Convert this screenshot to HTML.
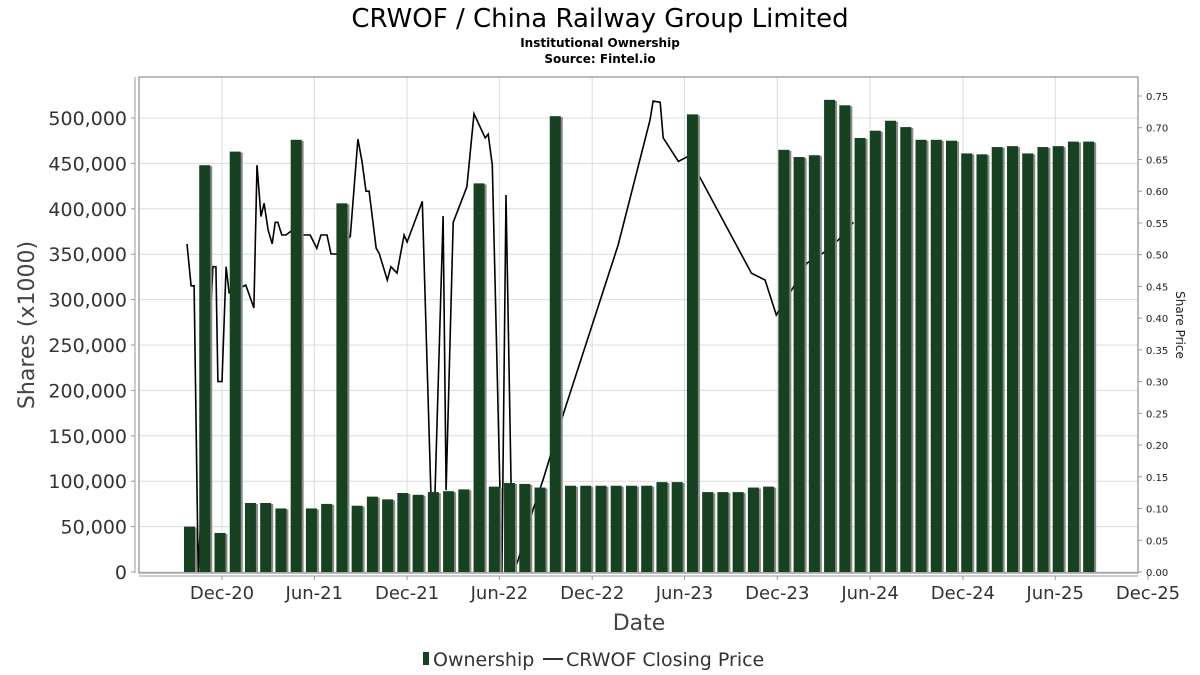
<!DOCTYPE html>
<html><head><meta charset="utf-8"><style>
body{margin:0;background:#fff;}
svg{display:block;font-family:"DejaVu Sans","Liberation Sans",sans-serif;}
</style></head><body>
<svg id="chart" width="1200" height="675" viewBox="0 0 1200 675">
<text x="600" y="27" text-anchor="middle" font-size="26" fill="#000">CRWOF / China Railway Group Limited</text>
<text x="600" y="47" text-anchor="middle" font-size="12" font-weight="bold" fill="#000">Institutional Ownership</text>
<text x="600" y="63" text-anchor="middle" font-size="12" font-weight="bold" fill="#000">Source: Fintel.io</text>
<g id="grid"></g>
<g id="line"></g>
<g id="bars"></g>
<rect x="139" y="77" width="999" height="496" fill="none" stroke="#777" stroke-width="1"/>
<line x1="135" y1="77" x2="135" y2="573" stroke="#999"/>
<line x1="139" y1="576" x2="1138" y2="576" stroke="#999"/>
<g id="axes"></g>
<text transform="translate(34,325) rotate(-90)" text-anchor="middle" font-size="22" fill="#444">Shares (x1000)</text>
<text transform="translate(1176,325) rotate(90)" text-anchor="middle" font-size="12" fill="#222">Share Price</text>
<text x="639" y="630" text-anchor="middle" font-size="22" fill="#444">Date</text>
<g>
<rect x="423" y="652" width="6" height="13" fill="#174222"/>
<text x="433" y="666" font-size="19" fill="#333">Ownership</text>
<line x1="543" y1="659" x2="563" y2="659" stroke="#333" stroke-width="2"/>
<text x="566" y="666" font-size="19" fill="#333">CRWOF Closing Price</text>
</g>
</svg>
<script>
const ownership = [50,448,43,463,76,76,70,476,70,75,406,73,83,80,87,85,88,89,91,428,94,98,97,93,502,95,95,95,95,95,95,99,99,504,88,88,88,93,94,465,457,459,520,514,478,486,497,490,476,476,475,461,460,468,469,461,468,469,474,474];
const priceDates = ["2020-09-23","2020-10-01","2020-10-07","2020-10-15","2020-11-13","2020-11-19","2020-11-23","2020-12-01","2020-12-09","2020-12-15","2021-01-17","2021-02-02","2021-02-08","2021-02-16","2021-02-22","2021-03-02","2021-03-10","2021-03-16","2021-03-21","2021-03-29","2021-04-06","2021-04-16","2021-04-24","2021-05-24","2021-06-06","2021-06-14","2021-06-26","2021-07-04","2021-07-16","2021-08-11","2021-08-26","2021-09-03","2021-09-11","2021-09-17","2021-10-01","2021-10-07","2021-10-23","2021-10-30","2021-11-11","2021-11-25","2021-12-01","2021-12-31","2022-01-17","2022-01-25","2022-02-10","2022-02-16","2022-03-02","2022-03-29","2022-04-12","2022-05-04","2022-05-10","2022-05-18","2022-06-06","2022-06-14","2022-06-24","2022-06-28","2022-07-08","2022-08-07","2022-08-26","2022-10-03","2022-11-13","2023-01-21","2023-03-25","2023-03-31","2023-04-14","2023-04-20","2023-05-20","2023-06-06","2023-07-02","2023-10-11","2023-11-07","2023-11-29","2024-01-02","2024-01-29","2024-03-01","2024-03-30","2024-04-29"];
const prices = [0.517,0.451,0.451,0,0.481,0.481,0.30,0.30,0.481,0.44,0.452,0.416,0.641,0.56,0.581,0.539,0.517,0.551,0.551,0.531,0.531,0.537,0.531,0.531,0.51,0.531,0.531,0.501,0.501,0.529,0.682,0.647,0.60,0.60,0.51,0.502,0.46,0.481,0.471,0.531,0.52,0.584,0.124,0.124,0.561,0.129,0.551,0.607,0.722,0.684,0.69,0.641,0,0.594,0.137,0,0.019,0.10,0.145,0.244,0.345,0.515,0.712,0.742,0.74,0.684,0.647,0.654,0.621,0.471,0.46,0.405,0.449,0.487,0.503,0.523,0.551];
const yTicks = [0,50000,100000,150000,200000,250000,300000,350000,400000,450000,500000];
const y2Ticks = [0,0.05,0.10,0.15,0.20,0.25,0.30,0.35,0.40,0.45,0.50,0.55,0.60,0.65,0.70,0.75];
const xTickDates = ["2020-12-01","2021-06-01","2021-12-01","2022-06-01","2022-12-01","2023-06-01","2023-12-01","2024-06-01","2024-12-01","2025-06-01","2025-12-01"];
const xTickLabels = ["Dec-20","Jun-21","Dec-21","Jun-22","Dec-22","Jun-23","Dec-23","Jun-24","Dec-24","Jun-25","Dec-25"];

const NS="http://www.w3.org/2000/svg";
const t0=Date.parse("2020-12-01"), t1=Date.parse("2025-12-01");
const xTime=d=>222+(Date.parse(d)-t0)/(t1-t0)*926;
const yL=v=>572-v/500000*454;
const yR=v=>572-v/0.75*476;
const barX=i=>184+i*15.24;
function mk(tag,attrs,parent){const e=document.createElementNS(NS,tag);for(const k in attrs)e.setAttribute(k,attrs[k]);parent.appendChild(e);return e;}
const grid=document.getElementById('grid'),axes=document.getElementById('axes'),bars=document.getElementById('bars'),lineG=document.getElementById('line');
yTicks.forEach((v,i)=>{
  const y=yL(v);
  const g=mk('line',{x1:139,x2:1138,y1:y,y2:y,stroke:'#dcdcdc'},grid);
  
  
  const tk=mk('line',{x1:131,x2:135,y1:y,y2:y,stroke:'#999'},axes);
  
  
  const t=mk('text',{x:127,y:y+7,'text-anchor':'end','font-size':19,fill:'#333'},axes);
  t.textContent=v.toLocaleString('en-US');
  
  
});
y2Ticks.forEach(v=>{
  const y=yR(v);
  const tk=mk('line',{x1:1138,x2:1142,y1:y,y2:y,stroke:'#999'},axes);
  
  
  const t=mk('text',{x:1146,y:y+4,'font-size':10,fill:'#222'},axes);
  t.textContent=v.toFixed(2);
  
  
});
xTickDates.forEach((d,i)=>{
  const x=xTime(d);
  if(x<1138){const g=mk('line',{x1:x,x2:x,y1:77,y2:573,stroke:'#dcdcdc'},grid);
  
  }
  const tk=mk('line',{x1:x,x2:x,y1:576,y2:580,stroke:'#999'},axes);
  
  
  const t=mk('text',{x:x,y:599,'text-anchor':'middle','font-size':18,fill:'#333'},axes);
  t.textContent=xTickLabels[i];
  
  
});
const pts=prices.map((p,i)=>xTime(priceDates[i]).toFixed(1)+','+yR(p).toFixed(1)).join(' ');
const pl=mk('polyline',{points:pts,fill:'none',stroke:'#000','stroke-width':1.6},lineG);


ownership.forEach((v,i)=>{
  const x=barX(i),y=yL(v*1000);
  const s=mk('rect',{x:x+2,y:y+1,width:11,height:572-y-1,fill:'#8a8a8a'},bars);
  
  
  const r=mk('rect',{x:x,y:y,width:11,height:572-y,fill:'#174222'},bars);
  
  
});
</script>
</body></html>
